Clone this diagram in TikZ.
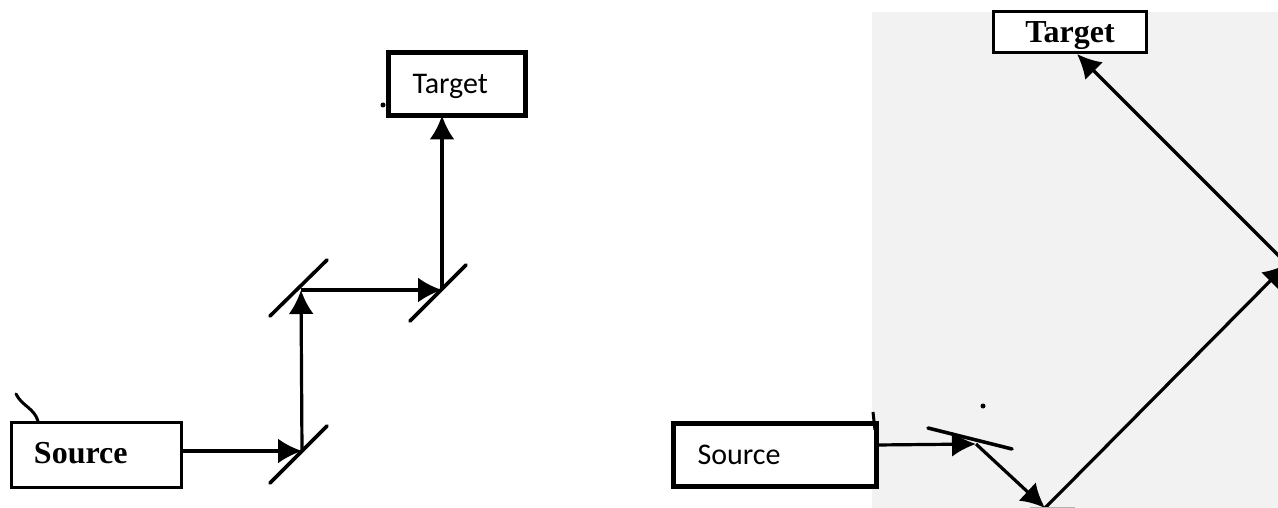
\documentclass[tikz,border=0pt]{standalone}
\usepackage{fontspec}
\newfontfamily\calibrifont{Carlito}
\newfontfamily\scanfont{Liberation Serif}
\usetikzlibrary{arrows.meta}

\begin{document}
\begin{tikzpicture}[
    x=1pt, y=-1pt,
    box/.style={draw=black, fill=white, inner ysep=0pt, outer sep=0pt, line width=3pt, align=left},
    scanlabel/.style={font=\scanfont\fontsize{32}{34}\selectfont\bfseries},
    typedlabel/.style={font=\calibrifont\fontsize{30}{32}\selectfont, line width=5pt},
    ray/.style={line width=3.2pt, -{Latex[length=24pt,width=25pt]}},
    mirror/.style={line width=3.6pt, line cap=round}
]

\useasboundingbox (0,0) rectangle (1278,508);
\fill[black!5] (872,12) rectangle (1278,508);

% left sketch
\node[box, scanlabel, minimum width=170pt, minimum height=65pt, text width=146pt, inner xsep=12pt, text depth=5pt] (sourceL) at (96,455) {\hspace{11pt}Source};
\node[box, typedlabel, minimum width=137pt, minimum height=63pt, text width=113pt, inner xsep=12pt, text depth=0pt] (targetL) at (457,84) {\hspace{12pt}Target};

\coordinate (mirrorA) at (302,451);
\coordinate (mirrorB) at (301,290);
\coordinate (mirrorC) at (442,290);

\draw[mirror] (270,483) -- (327,426);
\draw[mirror] (270,316) -- (327,260);
\draw[mirror] (410,321) -- (466,265);

\draw[ray] (mirrorA -| sourceL.east) -- (mirrorA);
\draw[ray] (mirrorA) -- (mirrorB);
\draw[ray] (mirrorB) -- (mirrorC);
\draw[ray] (mirrorC) -- (targetL.south -| mirrorC);

\draw[line width=3pt, line cap=round] (16,394) .. controls (22,406) and (34,408) .. (38,421);
\fill (383,105) circle (2.5pt);

% right sketch
\node[box, typedlabel, minimum width=203pt, minimum height=63pt, text width=179pt, inner xsep=12pt, text depth=-2pt] (sourceR) at (775,455) {\hspace{12pt}Source};
\node[box, scanlabel, minimum width=153pt, minimum height=41pt, align=center, text depth=0pt] (targetR) at (1070,32) {Target};

\coordinate (mirrorD) at (976,444);
\coordinate (mirrorE) at (1045,508);
\coordinate (mirrorF) at (1287,264);
\coordinate (targetTip) at (1077,54);

\draw[mirror] (928,428) -- (1012,449);
\draw[line width=3pt] (873,412) -- (875,430);
\draw[ray] (sourceR.east |- 0,445) -- (mirrorD);
\draw[ray] (mirrorD) -- (mirrorE);
\draw[ray] (mirrorE) -- (mirrorF);
\draw[ray] (mirrorF) -- (targetTip);

\fill (983,406) circle (2.5pt);
\draw[gray!60, line width=1.5pt] (1030,507.5) -- (1075,507.5);

\end{tikzpicture}
\end{document}
